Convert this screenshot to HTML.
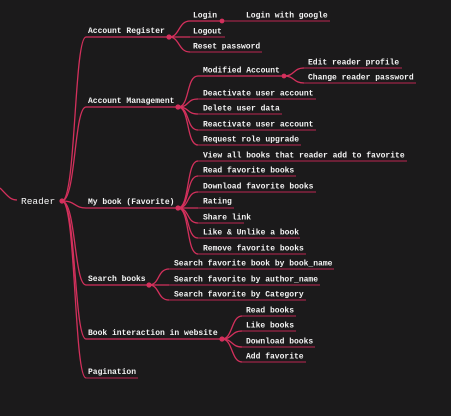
<!DOCTYPE html>
<html><head><meta charset="utf-8"><style>
html,body{margin:0;padding:0;background:#1b1a1b;}
svg{display:block}
text{font-family:"Liberation Mono",monospace;font-size:8px;font-weight:bold;fill:#f4f4f4;}
.c{fill:none;stroke:#d3305c;stroke-width:1.3}
.u{fill:none;stroke:#86233f;stroke-width:1.5}
.p{fill:none;stroke:#b52a51;stroke-width:1.5}
.d{fill:#d3305c}
</style></head><body>
<svg width="451" height="416" viewBox="0 0 451 416" xmlns="http://www.w3.org/2000/svg">
<path class="c" d="M0,188 C8,196 10,200 17,200"/>
<text x="21" y="204" style="font-size:9.5px;font-weight:normal">Reader</text>
<!-- top level curves -->
<path class="c" d="M62,201 C76,201 74,37 86,37"/>
<path class="c" d="M62,201 C76,201 74,107 86,107"/>
<path class="c" d="M62,201 C76,201 74,208 86,208"/>
<path class="c" d="M62,201 C76,201 74,285 86,285"/>
<path class="c" d="M62,201 C76,201 74,339 86,339"/>
<path class="c" d="M62,201 C76,201 74,378 86,378"/>
<path class="p" d="M86,37H169M86,107H178M86,208H178M86,285H149M86,339H222"/>
<path class="u" d="M86,378H138"/>
<text x="88" y="33">Account Register</text>
<text x="88" y="103">Account Management</text>
<text x="88" y="204">My book (Favorite)</text>
<text x="88" y="281">Search books</text>
<text x="88" y="335">Book interaction in website</text>
<text x="88" y="374">Pagination</text>
<!-- Account Register -->
<path class="c" d="M169,37 C180,37 178,21 190,21"/>
<path class="c" d="M169,37 H190"/>
<path class="c" d="M169,37 C180,37 178,52 190,52"/>
<path class="p" d="M190,21H222"/>
<path class="u" d="M190,37H225M190,52H262"/>
<text x="193" y="17.5">Login</text>
<text x="193" y="33.5">Logout</text>
<text x="193" y="48.5">Reset password</text>
<path class="u" d="M222,21H330"/>
<text x="246" y="17.5">Login with google</text>
<!-- Account Management -->
<path class="c" d="M178,107 C190,107 186,76 198,76"/>
<path class="c" d="M178,107 C190,107 186,99 198,99"/>
<path class="c" d="M178,107 C190,107 186,114 198,114"/>
<path class="c" d="M178,107 C190,107 186,130 198,130"/>
<path class="c" d="M178,107 C190,107 186,145 198,145"/>
<path class="p" d="M198,76H284"/>
<path class="u" d="M198,99H316M198,114H282M198,130H316M198,145H301"/>
<text x="203" y="72.5">Modified Account</text>
<text x="203" y="95.5">Deactivate user account</text>
<text x="203" y="110.5">Delete user data</text>
<text x="203" y="126.5">Reactivate user account</text>
<text x="203" y="141.5">Request role upgrade</text>
<path class="c" d="M284,76 C295,76 293,68 304,68"/>
<path class="c" d="M284,76 C295,76 293,83 304,83"/>
<path class="u" d="M304,68H402M304,83H416"/>
<text x="308" y="64.5">Edit reader profile</text>
<text x="308" y="79.5">Change reader password</text>
<!-- My book -->
<path class="c" d="M178,208 C190,208 186,161 198,161"/>
<path class="c" d="M178,208 C190,208 186,176 198,176"/>
<path class="c" d="M178,208 C190,208 186,192 198,192"/>
<path class="c" d="M178,208 H198"/>
<path class="c" d="M178,208 C190,208 186,223 198,223"/>
<path class="c" d="M178,208 C190,208 186,238 198,238"/>
<path class="c" d="M178,208 C190,208 186,254 198,254"/>
<path class="u" d="M198,161H407M198,176H296M198,192H316M198,208H234M198,223H244M198,238H300M198,254H306"/>
<text x="203" y="157.5">View all books that reader add to favorite</text>
<text x="203" y="172.5">Read favorite books</text>
<text x="203" y="188.5">Download favorite books</text>
<text x="203" y="203.5">Rating</text>
<text x="203" y="219.5">Share link</text>
<text x="203" y="234.5">Like &amp; Unlike a book</text>
<text x="203" y="250.5">Remove favorite books</text>
<!-- Search books -->
<path class="c" d="M149,285 C160,285 157,269 169,269"/>
<path class="c" d="M149,285 H169"/>
<path class="c" d="M149,285 C160,285 157,300 169,300"/>
<path class="u" d="M169,269H334M169,285H320M169,300H306"/>
<text x="174" y="265.5">Search favorite book by book_name</text>
<text x="174" y="281.5">Search favorite by author_name</text>
<text x="174" y="296.5">Search favorite by Category</text>
<!-- Book interaction -->
<path class="c" d="M222,339 C233,339 231,316 242,316"/>
<path class="c" d="M222,339 C233,339 231,331 242,331"/>
<path class="c" d="M222,339 C233,339 231,347 242,347"/>
<path class="c" d="M222,339 C233,339 231,362 242,362"/>
<path class="u" d="M242,316H296M242,331H296M242,347H315M242,362H306"/>
<text x="246" y="312.5">Read books</text>
<text x="246" y="327.5">Like books</text>
<text x="246" y="343.5">Download books</text>
<text x="246" y="358.5">Add favorite</text>
<!-- dots -->
<circle class="d" cx="62" cy="201" r="2.6"/>
<circle class="d" cx="169" cy="37" r="2.6"/>
<circle class="d" cx="178" cy="107" r="2.6"/>
<circle class="d" cx="178" cy="208" r="2.6"/>
<circle class="d" cx="149" cy="285" r="2.6"/>
<circle class="d" cx="222" cy="339" r="2.6"/>
<circle class="d" cx="222" cy="21" r="2.4"/>
<circle class="d" cx="284" cy="76" r="2.4"/>
</svg>
</body></html>
